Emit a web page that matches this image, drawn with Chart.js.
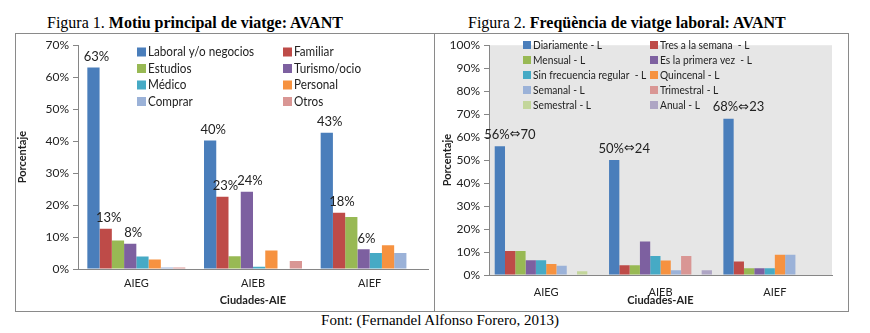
<!DOCTYPE html>
<html>
<head>
<meta charset="utf-8">
<script src="https://cdn.jsdelivr.net/npm/chart.js@4.4.0/dist/chart.umd.min.js"></script>
<style>
  body { margin: 0; width: 870px; height: 333px; background: #fff; position: relative; overflow: hidden; font-family: "Liberation Serif", "Times New Roman", serif; color: #000; }
  .titol { position: absolute; top: 14px; font-size: 16px; line-height: 18px; white-space: nowrap; }
  .marc { position: absolute; top: 33px; height: 277px; border: 1px solid #8a8a8a; }
  #marc1 { left: 15px; width: 418px; }
  #marc2 { left: 434px; width: 413px; }
  canvas { display: block; }
  .font { position: absolute; top: 312px; left: 0; width: 880px; text-align: center; font-size: 15px; line-height: 17px; }
</style>
</head>
<body>
<div class="titol" style="left:47px">Figura 1. <b>Motiu principal de viatge: AVANT</b></div>
<div class="titol" style="left:468px">Figura 2. <b>Freqüència de viatge laboral: AVANT</b></div>
<div class="marc" id="marc1"><canvas id="grafic1" width="418" height="277"></canvas></div>
<div class="marc" id="marc2"><canvas id="grafic2" width="413" height="277"></canvas></div>
<div class="font">Font: (Fernandel Alfonso Forero, 2013)</div>

<script>
const ciutats = ['AIEG', 'AIEB', 'AIEF'];

// Figura 1 - motiu principal (%)
const motius = ['Laboral y/o negocios', 'Familiar', 'Estudios', 'Turismo/ocio', 'Médico', 'Personal', 'Comprar', 'Otros'];
const laboral = [63, 40.2, 42.6];
const familiar = [12.6, 22.6, 17.6];
const estudios = [8.9, 4.0, 16.3];
const turismo = [7.9, 24.2, 6.2];
const medico = [3.9, 0.7, 5.0];
const personal = [3.0, 5.8, 7.4];
const comprar = [0.5, 0, 5.0];
const otros = [0.5, 2.5, 0];
const valorsMotius = [laboral, familiar, estudios, turismo, medico, personal, comprar, otros];

// Figura 2 - freqüència laboral (%)
const frequencies = ['Diariamente - L', 'Tres a la semana  - L', 'Mensual - L', 'Es la primera vez  - L',
  'Sin frecuencia regular  - L', 'Quincenal - L', 'Semanal - L', 'Trimestral - L', 'Semestral - L', 'Anual - L'];
const diariamente = [56, 50, 68];
const tresSemana = [10.4, 4.2, 5.9];
const mensual = [10.4, 4.2, 2.9];
const primeraVez = [6.4, 14.6, 2.9];
const sinFrecuencia = [6.4, 8.3, 2.9];
const quincenal = [4.8, 6.3, 8.8];
const semanal = [4.0, 2.1, 8.8];
const trimestral = [0, 8.3, 0];
const semestral = [1.6, 0, 0];
const anual = [0, 2.1, 0];
const valorsFreq = [diariamente, tresSemana, mensual, primeraVez, sinFrecuencia, quincenal, semanal, trimestral, semestral, anual];
const diariamenteN = [70, 24, 23];

const colorsMotius = ['#4a7ebb', '#be4b48', '#98b954', '#7d60a0', '#46aac5', '#f69240', '#9bb2d8', '#d99694'];
const colorsFreq = ['#4a7ebb', '#be4b48', '#98b954', '#7d60a0', '#46aac5', '#f69240', '#9bb2d8', '#d99694', '#c3d69b', '#aea5c4'];

Chart.defaults.font.family = 'Lato, "Noto Sans", sans-serif';
Chart.defaults.color = '#222';

// fons gris de l'àrea de dibuix
function fonsArea(color) {
  return {
    id: 'fonsArea',
    beforeDraw(chart) {
      const a = chart.chartArea;
      chart.ctx.save();
      chart.ctx.fillStyle = color;
      chart.ctx.fillRect(a.left, a.top, a.width, a.height);
      chart.ctx.restore();
    }
  };
}

// llegenda en dues columnes dins de l'àrea
function llegenda(cfg) {
  return {
    id: 'llegenda',
    afterDatasetsDraw(chart) {
      const ctx = chart.ctx;
      ctx.save();
      ctx.font = cfg.font;
      ctx.textBaseline = 'middle';
      chart.data.datasets.forEach((ds, i) => {
        const x = cfg.x + (i % 2) * cfg.col;
        const y = cfg.y + Math.floor(i / 2) * cfg.fila;
        ctx.fillStyle = ds.backgroundColor;
        ctx.fillRect(x, y - cfg.quadre / 2, cfg.quadre, cfg.quadre);
        ctx.fillStyle = '#222';
        ctx.save();
        ctx.translate(x + cfg.quadre + 2, y);
        ctx.scale(cfg.estret, 1);
        ctx.fillText(ds.label, 0, 0);
        ctx.restore();
      });
      ctx.restore();
    }
  };
}

// etiquetes de valor sobre les barres; la fletxa doble va amb DejaVu
function etiquetes(series, format, cfg) {
  const fletxa = '13px "DejaVu Sans", sans-serif';
  return {
    id: 'etiquetes',
    afterDatasetsDraw(chart) {
      const ctx = chart.ctx;
      ctx.save();
      ctx.fillStyle = '#222';
      ctx.textAlign = 'left';
      ctx.textBaseline = 'bottom';
      series.forEach(s => {
        chart.getDatasetMeta(s).data.forEach((bar, j) => {
          const parts = format(chart.data.datasets[s].data[j], j).split(/(\u21d4)/).filter(p => p);
          const fonts = parts.map(p => p === '\u21d4' ? fletxa : cfg.font);
          let total = 0;
          parts.forEach((p, k) => { ctx.font = fonts[k]; total += ctx.measureText(p).width; });
          let x = bar.x + cfg.dx - total / 2;
          parts.forEach((p, k) => {
            ctx.font = fonts[k];
            ctx.fillText(p, x, bar.y - cfg.dy);
            x += ctx.measureText(p).width;
          });
        });
      });
      ctx.restore();
    }
  };
}

function opcions(maxY, c) {
  return {
    responsive: false,
    animation: false,
    layout: { padding: { left: c.padL, right: c.padR, top: 8, bottom: 0 } },
    plugins: { legend: { display: false }, tooltip: { enabled: false } },
    datasets: { bar: { categoryPercentage: c.cat, barPercentage: 1 } },
    scales: {
      x: {
        grid: { display: false, drawTicks: false },
        border: { color: '#868686' },
        ticks: { font: { size: 11 }, padding: c.padX },
        title: { display: true, text: 'Ciudades-AIE', font: { size: 11, weight: 'bold' }, padding: { top: 0, bottom: 4 } },
        afterFit: s => { s.height = c.altX; }
      },
      y: {
        min: 0,
        max: maxY,
        ticks: { stepSize: 10, callback: v => v + '%', font: { size: 12 }, padding: 4 },
        grid: { drawOnChartArea: false, tickLength: 5, color: '#868686' },
        border: { color: '#868686' },
        title: { display: true, text: 'Porcentaje', font: { size: 11, weight: 'bold' }, padding: { top: 0, bottom: 0 } },
        afterFit: s => { s.width = c.ampleY; }
      }
    }
  };
}

new Chart(document.getElementById('grafic1'), {
  type: 'bar',
  data: {
    labels: ciutats,
    datasets: motius.map((m, i) => ({ label: m, data: valorsMotius[i], backgroundColor: colorsMotius[i] }))
  },
  options: opcions(70, { padL: 0, padR: 6, cat: 0.84, padX: 8, altX: 42, ampleY: 62 }),
  plugins: [
    llegenda({ x: 121, y: 18, col: 146, fila: 16.5, quadre: 9, font: '13px Lato, sans-serif', estret: 0.9 }),
    etiquetes([0, 1, 3], v => Math.round(v) + '%', { font: '13px Lato, sans-serif', dx: 3, dy: 4 })
  ]
});

new Chart(document.getElementById('grafic2'), {
  type: 'bar',
  data: {
    labels: ciutats,
    datasets: frequencies.map((f, i) => ({ label: f, data: valorsFreq[i], backgroundColor: colorsFreq[i] }))
  },
  options: opcions(100, { padL: 6, padR: 16, cat: 0.9, padX: 11, altX: 36, ampleY: 48 }),
  plugins: [
    fonsArea('#e6e6e6'),
    llegenda({ x: 88, y: 11, col: 127, fila: 15, quadre: 8, font: '12px Lato, sans-serif', estret: 0.85 }),
    etiquetes([0], (v, j) => Math.round(v) + '%\u21d4' + diariamenteN[j], { font: '13px Lato, sans-serif', dx: 10, dy: 5 })
  ]
});
</script>
</body>
</html>
